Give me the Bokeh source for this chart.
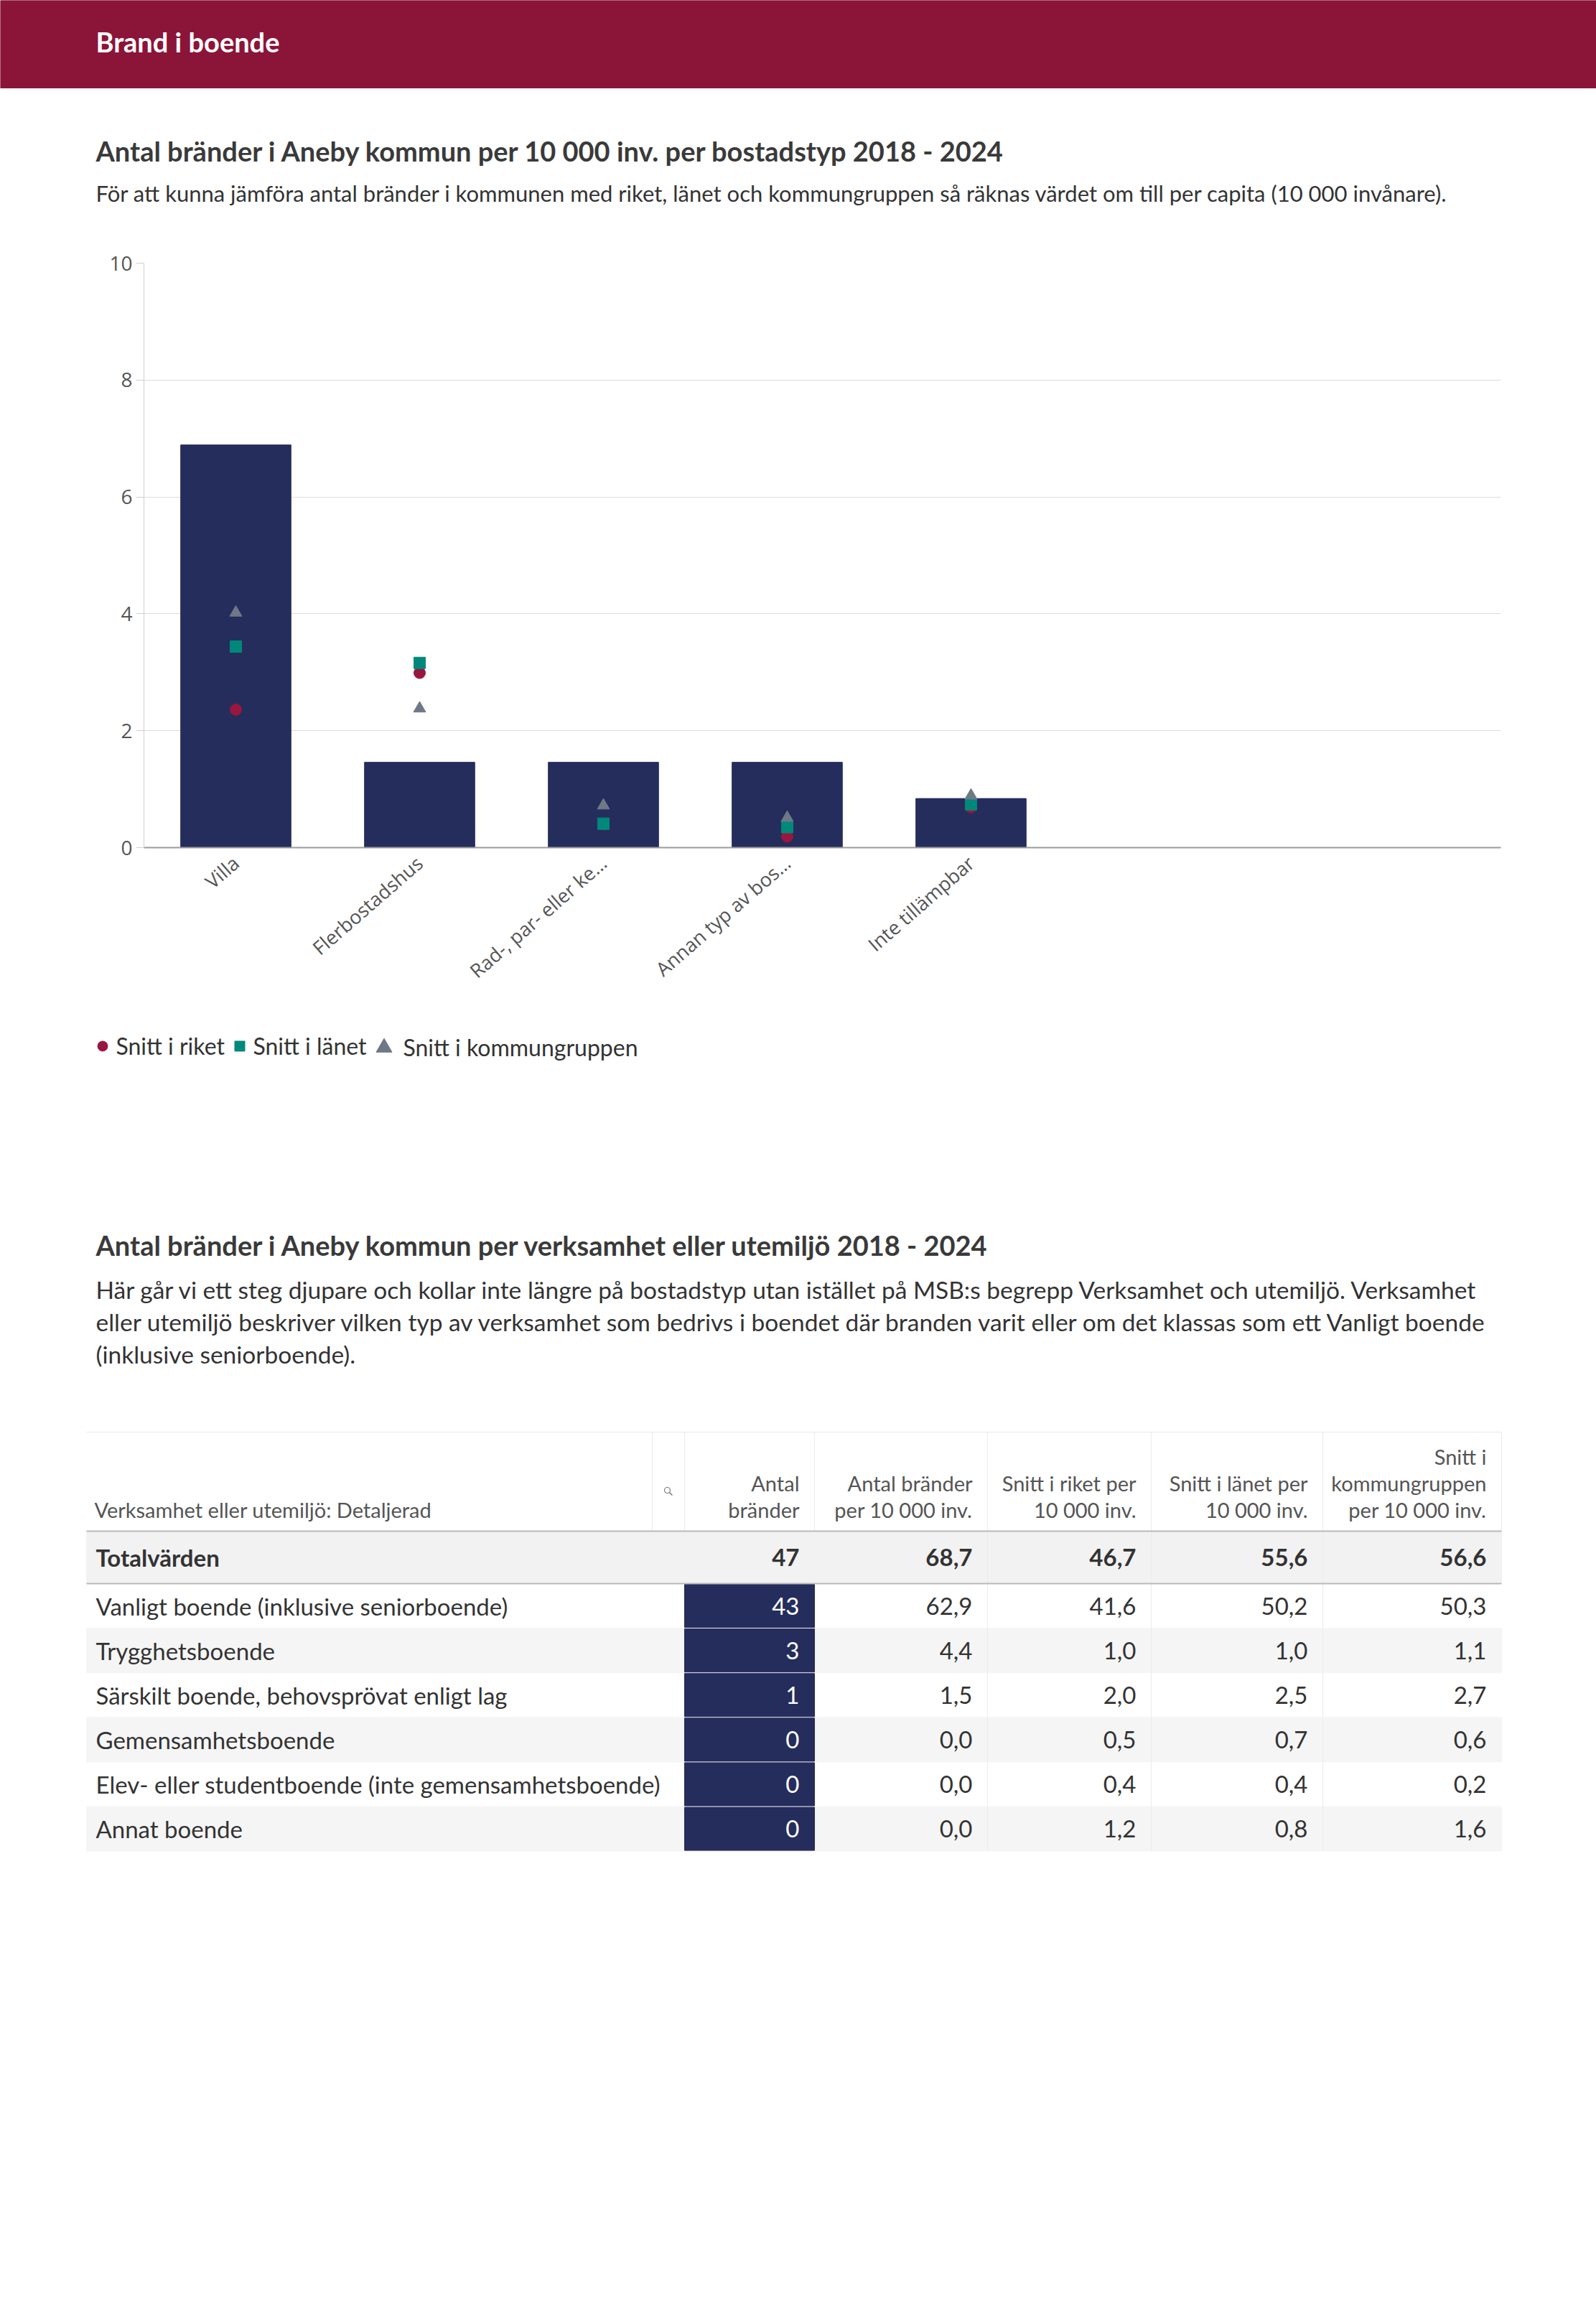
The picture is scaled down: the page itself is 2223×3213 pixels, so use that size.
import math
from bokeh.plotting import figure
from bokeh.layouts import column
from bokeh.models import Range1d, FixedTicker, Legend, LegendItem
from bokeh.core.properties import value
from bokeh.embed import file_html
from bokeh.resources import INLINE

# ---------------- data ----------------
page_title = "Brand i boende"
chart_title = "Antal bränder i Aneby kommun per 10 000 inv. per bostadstyp 2018 - 2024"
chart_subtitle = ("För att kunna jämföra antal bränder i kommunen med riket, länet och kommungruppen "
                  "så räknas värdet om till per capita (10 000 invånare).")

categories = ["Villa", "Flerbostadshus", "Rad-, par- eller ke…", "Annan typ av bos…", "Inte tillämpbar"]
kommun_values = [6.89, 1.46, 1.46, 1.46, 0.84]
snitt_riket = [2.36, 2.99, 0.40, 0.19, 0.69]
snitt_lanet = [3.44, 3.16, 0.41, 0.35, 0.74]
snitt_kommungruppen = [4.02, 2.38, 0.72, 0.51, 0.89]
y_ticks = [0, 2, 4, 6, 8, 10]
legend_labels = ["Snitt i riket", "Snitt i länet", "Snitt i kommungruppen"]

table_title = "Antal bränder i Aneby kommun per verksamhet eller utemiljö 2018 - 2024"
table_text_lines = [
    "Här går vi ett steg djupare och kollar inte längre på bostadstyp utan istället på MSB:s begrepp Verksamhet och utemiljö. Verksamhet",
    "eller utemiljö beskriver vilken typ av verksamhet som bedrivs i boendet där branden varit eller om det klassas som ett Vanligt boende",
    "(inklusive seniorboende).",
]
row_header = "Verksamhet eller utemiljö: Detaljerad"
col_headers = [
    ["Antal", "bränder"],
    ["Antal bränder", "per 10 000 inv."],
    ["Snitt i riket per", "10 000 inv."],
    ["Snitt i länet per", "10 000 inv."],
    ["Snitt i", "kommungruppen", "per 10 000 inv."],
]
total_label = "Totalvärden"
total_antal = 47
total_values = [68.7, 46.7, 55.6, 56.6]
row_labels = [
    "Vanligt boende (inklusive seniorboende)",
    "Trygghetsboende",
    "Särskilt boende, behovsprövat enligt lag",
    "Gemensamhetsboende",
    "Elev- eller studentboende (inte gemensamhetsboende)",
    "Annat boende",
]
antal_brander = [43, 3, 1, 0, 0, 0]
per_10000 = [62.9, 4.4, 1.5, 0.0, 0.0, 0.0]
riket_10000 = [41.6, 1.0, 2.0, 0.5, 0.4, 1.2]
lanet_10000 = [50.2, 1.0, 2.5, 0.7, 0.4, 0.8]
kommungrupp_10000 = [50.3, 1.1, 2.7, 0.6, 0.2, 1.6]

# ---------------- styles ----------------
W = 2223
NAVY = "#252D5C"
MAROON = "#8B1538"
C_RIKET = "#97173F"
C_LANET = "#00897B"
C_GRUPP = "#6E7886"
TXT = "#333333"
GILL = value("Lato")
AXF = "Open Sans"


def fmt(v):
    return f"{v:.1f}".replace(".", ",")


def canvas(height):
    f = figure(width=W, height=height, x_range=Range1d(0, W), y_range=Range1d(height, 0),
               x_axis_location=None, y_axis_location=None, min_border=0, frame_align=False,
               toolbar_location=None, output_backend="svg")
    f.grid.visible = False
    f.outline_line_color = None
    return f


# ---------------- header (page y 0..330) ----------------
TOP_H = 330
top = canvas(TOP_H)
top.quad(left=[0], right=[W], top=[0], bottom=[122], color=MAROON)
top.text(x=[133], y=[57], text=[page_title], text_font=GILL, text_font_style="bold",
         text_font_size="38px", text_color="white", text_baseline="middle")
top.text(x=[133], y=[209], text=[chart_title], text_font=GILL, text_font_style="bold",
         text_font_size="38px", text_color="#3a3a3a", text_baseline="middle")
top.text(x=[133], y=[268], text=[chart_subtitle], text_font=GILL,
         text_font_size="31px", text_color=TXT, text_baseline="middle")

# ---------------- chart (page y 330..1420) ----------------
idx = list(range(len(categories)))
p = figure(width=W, height=1090, x_range=Range1d(-0.5, 6.883), y_range=Range1d(0, 10),
           min_border_left=200, min_border_right=133, min_border_top=36, min_border_bottom=240,
           frame_align=False, toolbar_location=None, output_backend="svg")
p.outline_line_color = None
p.vbar(x=idx, top=kommun_values, width=0.6, color=NAVY)
p.scatter(x=idx, y=snitt_riket, marker="circle", size=16, color=C_RIKET)
p.scatter(x=idx, y=snitt_lanet, marker="square", size=16, color=C_LANET)
p.scatter(x=idx, y=snitt_kommungruppen, marker="triangle", size=17, color=C_GRUPP)

p.xgrid.visible = False
p.ygrid.ticker = FixedTicker(ticks=y_ticks)
p.ygrid.grid_line_color = "#dcdcdc"
p.ygrid.grid_line_width = 1

ya = p.yaxis[0]
ya.ticker = FixedTicker(ticks=y_ticks)
ya.axis_line_color = "#d0d0d0"
ya.major_tick_line_color = "#d0d0d0"
ya.major_tick_out = 11
ya.major_tick_in = 0
ya.minor_tick_line_color = None
ya.major_label_standoff = 5
ya.major_label_text_font = AXF
ya.major_label_text_font_size = "28px"
ya.major_label_text_color = "#555555"

xa = p.xaxis[0]
xa.ticker = FixedTicker(ticks=idx)
xa.major_label_overrides = {i: c for i, c in zip(idx, categories)}
xa.axis_line_color = "#9a9a9a"
xa.axis_line_width = 2
xa.major_tick_line_color = None
xa.minor_tick_line_color = None
xa.major_label_orientation = math.radians(41)
xa.major_label_standoff = 11
xa.major_label_text_font = AXF
xa.major_label_text_font_size = "27px"
xa.major_label_text_color = "#555555"

# ---------------- legend + table (page y 1420..2640) ----------------
OFF = 1420
B_H = 1220


def PY(v):
    return v - OFF


b = canvas(B_H)

# legend (one Legend per entry so that each symbol keeps its own size)
LEG_Y = PY(1458)
leg_specs = [("circle", C_RIKET, 142, 35, 2), ("square", C_LANET, 333, 35, 2),
             ("triangle", C_GRUPP, 534, 55, 0)]
for lab, (mk, col, cx, gs, so) in zip(legend_labels, leg_specs):
    rr = b.scatter(x=[-500], y=[-500], marker=mk, color=col)
    lg = Legend(items=[LegendItem(label=lab, renderers=[rr])], orientation="horizontal",
                location=(cx - gs / 2, B_H - (LEG_Y + gs / 2)),
                glyph_width=gs, glyph_height=gs, label_standoff=so,
                padding=0, margin=0, border_line_color=None, background_fill_alpha=0,
                label_text_font="Lato", label_text_font_size="32px", label_text_color=TXT)
    b.add_layout(lg, "center")

b.text(x=[133], y=[PY(1733)], text=[table_title], text_font=GILL, text_font_style="bold",
       text_font_size="38px", text_color="#3a3a3a", text_baseline="middle")
b.text(x=[133] * len(table_text_lines), y=[PY(1795 + 45 * i) for i in range(len(table_text_lines))],
       text=table_text_lines, text_font=GILL, text_font_size="33.5px", text_color=TXT,
       text_baseline="middle")

edges = [120, 908, 953, 1134, 1375, 1603, 1842, 2091]
HEAD_TOP, HEAD_BOT, TOT_BOT, ROW_H = PY(1994), PY(2132), PY(2205), 62.1
n = len(row_labels)
row_top = [TOT_BOT + i * ROW_H for i in range(n)]
row_mid = [t + ROW_H / 2 for t in row_top]
TAB_BOT = TOT_BOT + n * ROW_H
right_text = [edges[i + 1] - 21 for i in range(2, 7)]

# backgrounds
b.quad(left=[edges[0]], right=[edges[-1]], top=[HEAD_BOT], bottom=[TOT_BOT], color="#f2f2f2")
stripe = [i for i in range(n) if i % 2 == 1]
b.quad(left=[edges[0]] * len(stripe), right=[edges[-1]] * len(stripe),
       top=[row_top[i] for i in stripe], bottom=[row_top[i] + ROW_H for i in stripe], color="#f5f5f5")
# navy cells for Antal bränder
b.quad(left=[edges[2]] * n, right=[edges[3]] * n, top=[t + 1 for t in row_top],
       bottom=[t + ROW_H - 1 for t in row_top], color=NAVY)
# grid lines
vx = [edges[4], edges[5], edges[6]]
b.segment(x0=vx, y0=[HEAD_TOP] * 3, x1=vx, y1=[TAB_BOT] * 3, line_color="#ebebeb", line_width=1)
hx = [edges[1], edges[2], edges[3], edges[-1]]
b.segment(x0=hx, y0=[HEAD_TOP] * 4, x1=hx, y1=[HEAD_BOT] * 4, line_color="#ebebeb", line_width=1)
b.segment(x0=[edges[0]], y0=[HEAD_TOP], x1=[edges[-1]], y1=[HEAD_TOP], line_color="#e8e8e8", line_width=1)
b.segment(x0=[edges[0]] * 2, y0=[HEAD_BOT, TOT_BOT], x1=[edges[-1]] * 2, y1=[HEAD_BOT, TOT_BOT],
          line_color="#b9b9b9", line_width=2)

# search icon
b.scatter(x=[929], y=[PY(2075)], marker="circle", size=8, fill_color=None, line_color="#777777", line_width=1.2)
b.segment(x0=[932], y0=[PY(2078)], x1=[936], y1=[PY(2082)], line_color="#777777", line_width=1.5)

# header texts
HB = PY(2102)
b.text(x=[131], y=[HB], text=[row_header], text_font=GILL, text_font_size="29px",
       text_color="#555555", text_baseline="middle")
hxs, hys, hts = [], [], []
for j, lines in enumerate(col_headers):
    k = len(lines)
    for m, line in enumerate(lines):
        hxs.append(right_text[j])
        hys.append(HB - 37 * (k - 1 - m))
        hts.append(line)
b.text(x=hxs, y=hys, text=hts, text_font=GILL, text_font_size="29px", text_color="#555555",
       text_align="right", text_baseline="middle")

# total row
TOT_MID = (HEAD_BOT + TOT_BOT) / 2
b.text(x=[133], y=[TOT_MID], text=[total_label], text_font=GILL, text_font_style="bold",
       text_font_size="33px", text_color="#333333", text_baseline="middle")
b.text(x=right_text, y=[TOT_MID] * 5, text=[str(total_antal)] + [fmt(v) for v in total_values],
       text_font=GILL, text_font_style="bold", text_font_size="33px", text_color="#333333",
       text_align="right", text_baseline="middle")

# data rows
b.text(x=[133] * n, y=row_mid, text=row_labels, text_font=GILL, text_font_size="33px",
       text_color=TXT, text_baseline="middle")
b.text(x=[right_text[0]] * n, y=row_mid, text=[str(v) for v in antal_brander], text_font=GILL,
       text_font_size="33px", text_color="white", text_align="right", text_baseline="middle")
for j, col in enumerate([per_10000, riket_10000, lanet_10000, kommungrupp_10000]):
    b.text(x=[right_text[j + 1]] * n, y=row_mid, text=[fmt(v) for v in col], text_font=GILL,
           text_font_size="33px", text_color=TXT, text_align="right", text_baseline="middle")

layout = column(top, p, b, spacing=0)
open("out.html", "w").write(file_html(layout, INLINE))
